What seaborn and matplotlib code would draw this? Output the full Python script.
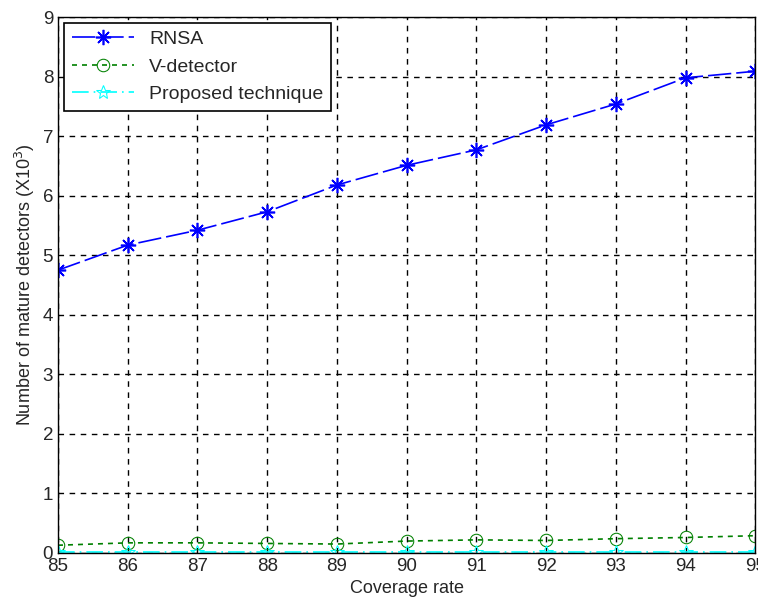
import matplotlib
matplotlib.use("Agg")
import matplotlib.pyplot as plt
import seaborn as sns
import pandas as pd

# data
coverage = [85, 86, 87, 88, 89, 90, 91, 92, 93, 94, 95]
rnsa = [4.75, 5.17, 5.42, 5.73, 6.18, 6.51, 6.77, 7.19, 7.54, 7.98, 8.09]
vdetector = [0.13, 0.17, 0.17, 0.16, 0.15, 0.20, 0.22, 0.21, 0.24, 0.26, 0.29]
proposed = [0.02, 0.02, 0.02, 0.02, 0.02, 0.02, 0.02, 0.02, 0.02, 0.02, 0.02]

df = pd.DataFrame({"coverage": coverage, "RNSA": rnsa,
                   "V-detector": vdetector, "Proposed technique": proposed})

sns.set_style("white")
plt.rcParams["font.family"] = ["Liberation Sans", "DejaVu Sans"]

fig = plt.figure(figsize=(7.58, 6.09), dpi=100)
ax = fig.add_axes([0.0765, 0.092, 0.92, 0.88])

sns.lineplot(data=df, x="coverage", y="RNSA", ax=ax, color="blue", marker=(8, 2, 0),
             markersize=11, markeredgecolor="blue", markeredgewidth=1.2,
             linewidth=1.2, label="RNSA")
ax.lines[-1].set_dashes([14, 3])
sns.lineplot(data=df, x="coverage", y="V-detector", ax=ax, color="green", marker="o",
             markersize=9, markerfacecolor="none", markeredgecolor="green",
             linewidth=1.2, linestyle=(0, (3, 3)), label="V-detector")
sns.lineplot(data=df, x="coverage", y="Proposed technique", ax=ax, color="cyan", marker="*",
             markersize=10, markerfacecolor="none", markeredgecolor="cyan",
             linewidth=1.2, linestyle=(0, (10, 3, 1, 3)), label="Proposed technique")

ax.set_xlim(85, 95)
ax.set_ylim(0, 9)
ax.set_xticks(coverage)
ax.set_yticks(range(0, 10))
ax.grid(True, color="black", linestyle=(0, (4, 4)), linewidth=1)
ax.set_axisbelow(True)
for s in ax.spines.values():
    s.set_color("black")
    s.set_linewidth(1)
ax.tick_params(axis="both", labelsize=13.5, direction="in", length=5, color="black")
ax.set_xlabel("Coverage rate", fontsize=13)
ax.set_ylabel("Number of mature detectors (X10$^3$)", fontsize=13)

leg = ax.legend(loc="upper left", fontsize=14, frameon=True, fancybox=False,
                edgecolor="black", framealpha=1, borderaxespad=0.3, handlelength=3.2,
                labelspacing=0.5)
leg.get_frame().set_linewidth(1.2)

fig.savefig("out.png", dpi=100)
